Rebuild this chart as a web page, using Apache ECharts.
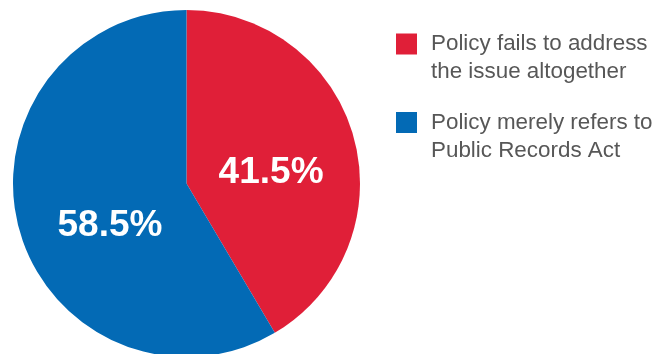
<!DOCTYPE html>
<html>
<head>
<meta charset="utf-8">
<script src="https://cdn.jsdelivr.net/npm/echarts@6/dist/echarts.min.js"></script>
<style>
  html, body { margin: 0; padding: 0; background: #fff; }
  #chart { width: 663px; height: 354px; }
</style>
</head>
<body>
<div id="chart"></div>
<script>
// Share of policies by how they handle the issue
const categories = ['Policy fails to address the issue altogether', 'Policy merely refers to Public Records Act'];
const legendLines = [['Policy fails to address', 'the issue altogether'], ['Policy merely refers to', 'Public Records Act']];
const shares = [41.5, 58.5];
const colors = ['#E01F38', '#036AB5'];

const chart = echarts.init(document.getElementById('chart'), null, { renderer: 'canvas' });

// A blank first line keeps the square level with the first line of text
const legendText = i => ' \n' + legendLines[i].map(s => '{t|' + s + '}').join('\n');

const legendTops = [2, 80.5];
const legends = categories.map((name, i) => ({
  data: [name],
  left: 396,
  top: legendTops[i],
  orient: 'vertical',
  icon: 'rect',
  itemWidth: 21,
  itemHeight: 21,
  itemGap: 0,
  padding: 0,
  selectedMode: false,
  formatter: n => legendText(categories.indexOf(n)),
  textStyle: {
    fontFamily: 'Liberation Sans, Arial, sans-serif',
    fontSize: 22,
    lineHeight: 28,
    color: '#575757',
    rich: {
      t: {
        fontFamily: 'Liberation Sans, Arial, sans-serif',
        fontSize: 22.4,
        lineHeight: 28,
        color: '#575757',
        padding: [0, 0, 0, 9]
      }
    }
  }
}));

const labelOffsets = [[-2, 13], [10, 19]];

chart.setOption({
  animation: false,
  legend: legends,
  series: [{
    type: 'pie',
    center: [186.5, 183.5],
    radius: [0, 173.5],
    startAngle: 90,
    clockwise: true,
    silent: true,
    data: categories.map((name, i) => ({
      name,
      value: shares[i],
      itemStyle: { color: colors[i] },
      label: { offset: labelOffsets[i] }
    })),
    label: {
      show: true,
      position: 'inside',
      formatter: p => p.value.toFixed(1) + '%',
      color: '#fff',
      fontFamily: 'Liberation Sans, Arial, sans-serif',
      fontWeight: 'bold',
      fontSize: 37
    },
    labelLine: { show: false },
    itemStyle: { borderWidth: 0 }
  }]
});
</script>
</body>
</html>
